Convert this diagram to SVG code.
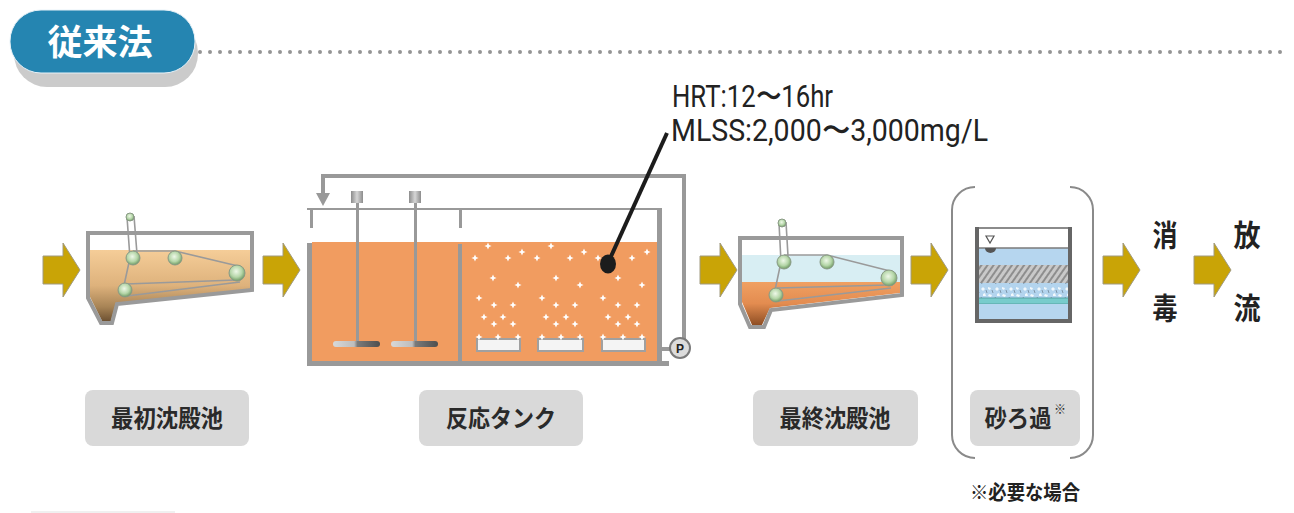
<svg xmlns="http://www.w3.org/2000/svg" width="1294" height="513" viewBox="0 0 1294 513">
  <style>
    .jp { font-family: "Noto Sans CJK JP", "Noto Sans", sans-serif; }
    .lbl-box { fill: #d9d9d9; }
    .lbl { font-family: "Noto Sans CJK JP", sans-serif; font-weight: 700; font-size: 24px; fill: #2a2a2a; text-anchor: middle; }
    .big { font-family: "Noto Sans CJK JP", sans-serif; font-weight: 700; font-size: 30px; fill: #222; text-anchor: middle; }
    .frame { fill: none; stroke: #9a9a9a; stroke-width: 4; stroke-linejoin: miter; }
    .chain { fill: none; stroke: #9a9a9a; stroke-width: 1.6; }
    .sprocket { fill: url(#sprocketGrad); stroke: #8a9a86; stroke-width: 1; }
    .wall { fill: #999; }
    .diffuser { fill: #f4f4f4; stroke: #a0a0a0; stroke-width: 2; }
  </style>
  <defs>
    <radialGradient id="sprocketGrad" cx="0.45" cy="0.4" r="0.6">
      <stop offset="0" stop-color="#eef8e8"/>
      <stop offset="0.6" stop-color="#b5d6a8"/>
      <stop offset="1" stop-color="#6f9a64"/>
    </radialGradient>
    <linearGradient id="sludge1" x1="0" y1="0" x2="0" y2="1">
      <stop offset="0" stop-color="#f5cd98"/>
      <stop offset="0.5" stop-color="#deb27c"/>
      <stop offset="0.8" stop-color="#a88456"/>
      <stop offset="1" stop-color="#6e5232"/>
    </linearGradient>
    <linearGradient id="sludge2" x1="0" y1="0" x2="0" y2="1">
      <stop offset="0" stop-color="#f0a062"/>
      <stop offset="0.5" stop-color="#e38c50"/>
      <stop offset="1" stop-color="#8e4e24"/>
    </linearGradient>
    <linearGradient id="impeller" x1="0" y1="0" x2="1" y2="0">
      <stop offset="0" stop-color="#d8d8d8"/>
      <stop offset="0.45" stop-color="#bdbdbd"/>
      <stop offset="0.52" stop-color="#7a7a7a"/>
      <stop offset="1" stop-color="#4e4e4e"/>
    </linearGradient>
    <linearGradient id="motor" x1="0" y1="0" x2="1" y2="0">
      <stop offset="0" stop-color="#8c8c8c"/>
      <stop offset="0.5" stop-color="#d6d6d6"/>
      <stop offset="1" stop-color="#8c8c8c"/>
    </linearGradient>
    <pattern id="hatch" width="5" height="5" patternUnits="userSpaceOnUse" patternTransform="rotate(35)">
      <rect width="5" height="5" fill="#c9c9c9"/>
      <rect width="2" height="5" fill="#8e8e8e"/>
    </pattern>
    <pattern id="gravel" width="14" height="15" patternUnits="userSpaceOnUse">
      <rect width="14" height="15" fill="#b3d4ee"/>
      <path d="M1,4 L3,2 L5,4 L3,6 Z M8,2 L11,3 L10,5 L8,4 Z M3,9 L5,8 L6,11 L3,11 Z M9,9 L12,10 L11,12 L8,11 Z" fill="#f2f8fc"/>
      <path d="M6,5 L7,8 M12,5 L13,8 M1,12 L2,14" stroke="#7f96a8" stroke-width="1"/>
    </pattern>
    <path id="arrow" d="M0,-14 L20,-14 L20,-27 L37,0 L20,27 L20,14 L0,14 Z" fill="#c9a406" stroke="#a09a80" stroke-width="1"/>
    <path id="bubble" d="M0,-3.6 L1.1,-1.1 L3.6,0 L1.1,1.1 L0,3.6 L-1.1,1.1 L-3.6,0 L-1.1,-1.1 Z" fill="#ffffff"/>
  </defs>

  <rect width="1294" height="513" fill="#ffffff"/>

  <!-- heading badge -->
  <g id="title">
    <rect x="14" y="20" width="184" height="67" rx="33" fill="#cbcbcb"/>
    <rect x="10" y="10" width="185" height="63" rx="31" fill="#2585b1" stroke="#e8f2f8" stroke-width="1"/>
    <text x="100" y="55" class="jp" font-size="35" font-weight="700" fill="#ffffff" text-anchor="middle">従来法</text>
  </g>

  <!-- dotted rule -->
  <g id="rule">
    <line x1="200" y1="52" x2="1290" y2="52" stroke="#949494" stroke-width="4" stroke-linecap="round" stroke-dasharray="0 10"/>
  </g>

  <!-- flow arrows -->
  <g id="connectors">
    <use href="#arrow" transform="translate(43,270)"/>
    <use href="#arrow" transform="translate(263,270)"/>
    <use href="#arrow" transform="translate(700,270)"/>
    <use href="#arrow" transform="translate(911,270)"/>
    <use href="#arrow" transform="translate(1103,270)"/>
    <use href="#arrow" transform="translate(1194,270)"/>
  </g>

  <!-- primary settling tank -->
  <g id="primary-tank">
    <path d="M90,250 L250,250 L250,289 L116,303 L111,321 L102,321 L90,297 Z" fill="url(#sludge1)"/>
    <path class="frame" d="M88,233 L252,233 L252,290 L117,304 L112,323 L101,323 L88,298 Z"/>
    <path class="chain" d="M127,217 L130,258 L123,290 M134,216 L137,254 M133,251 L175,251 L238,266 M126,284 L236,280 M127,296 L240,282"/>
    <circle class="sprocket" cx="130" cy="217" r="4"/>
    <circle class="sprocket" cx="133" cy="258" r="7"/>
    <circle class="sprocket" cx="175" cy="258" r="7"/>
    <circle class="sprocket" cx="237" cy="273" r="8"/>
    <circle class="sprocket" cx="125" cy="290" r="7"/>
  </g>

  <!-- reaction tank -->
  <g id="reaction-tank">
    <rect x="312" y="242" width="346" height="120" fill="#f19c60"/>
    <!-- walls -->
    <rect class="wall" x="307" y="243" width="5" height="122"/>
    <rect class="wall" x="458" y="244" width="4" height="119"/>
    <rect class="wall" x="657" y="209" width="5" height="156"/>
    <rect class="wall" x="307" y="361" width="362" height="5"/>
    <rect class="wall" x="307" y="208" width="355" height="2"/>
    <rect class="wall" x="310" y="209" width="3" height="19"/>
    <rect class="wall" x="459" y="209" width="3" height="19"/>
    <!-- return sludge line -->
    <path d="M662,349 L672,349 M684,339 L684,176 L323,176 L323,196" fill="none" stroke="#999" stroke-width="4"/>
    <path d="M316,193 L323,206 L330,193 Z" fill="#999"/>
    <circle cx="680" cy="348" r="10" fill="#dcdcdc" stroke="#7a7a7a" stroke-width="2"/>
    <text x="680" y="352.5" font-family="Liberation Sans, sans-serif" font-weight="700" font-size="12" fill="#222" text-anchor="middle">P</text>
    <!-- mixers -->
    <rect x="351" y="191" width="12" height="12" fill="url(#motor)"/>
    <rect x="356" y="203" width="3" height="141" fill="#999"/>
    <rect x="333" y="341" width="47" height="6" rx="3" fill="url(#impeller)"/>
    <rect x="409" y="191" width="12" height="12" fill="url(#motor)"/>
    <rect x="414" y="203" width="3" height="141" fill="#999"/>
    <rect x="391" y="341" width="47" height="6" rx="3" fill="url(#impeller)"/>
    <!-- diffusers -->
    <rect class="diffuser" x="477" y="339" width="43" height="12"/>
    <rect class="diffuser" x="538" y="339" width="45" height="12"/>
    <rect class="diffuser" x="602" y="339" width="43" height="12"/>
    <!-- air bubbles -->
    <g>
      <use href="#bubble" x="488" y="246"/><use href="#bubble" x="475" y="258"/><use href="#bubble" x="508" y="258"/>
      <use href="#bubble" x="522" y="252"/><use href="#bubble" x="537" y="258"/><use href="#bubble" x="551" y="246"/>
      <use href="#bubble" x="570" y="258"/><use href="#bubble" x="584" y="252"/><use href="#bubble" x="598" y="258"/>
      <use href="#bubble" x="632" y="258"/><use href="#bubble" x="647" y="252"/>
      <use href="#bubble" x="493" y="278"/><use href="#bubble" x="518" y="285"/><use href="#bubble" x="556" y="278"/>
      <use href="#bubble" x="580" y="285"/><use href="#bubble" x="618" y="278"/><use href="#bubble" x="642" y="285"/>
      <use href="#bubble" x="479" y="298"/><use href="#bubble" x="494" y="305"/><use href="#bubble" x="513" y="305"/>
      <use href="#bubble" x="542" y="298"/><use href="#bubble" x="556" y="305"/><use href="#bubble" x="575" y="305"/>
      <use href="#bubble" x="603" y="298"/><use href="#bubble" x="618" y="305"/><use href="#bubble" x="637" y="305"/>
      <use href="#bubble" x="484" y="317"/><use href="#bubble" x="494" y="324"/><use href="#bubble" x="503" y="317"/>
      <use href="#bubble" x="513" y="324"/><use href="#bubble" x="546" y="317"/><use href="#bubble" x="556" y="324"/>
      <use href="#bubble" x="566" y="317"/><use href="#bubble" x="575" y="324"/><use href="#bubble" x="608" y="317"/>
      <use href="#bubble" x="618" y="324"/><use href="#bubble" x="628" y="317"/><use href="#bubble" x="637" y="324"/>
      <use href="#bubble" x="479" y="337"/><use href="#bubble" x="498" y="337"/><use href="#bubble" x="518" y="337"/>
      <use href="#bubble" x="542" y="337"/><use href="#bubble" x="561" y="337"/><use href="#bubble" x="580" y="337"/>
      <use href="#bubble" x="603" y="337"/><use href="#bubble" x="623" y="337"/><use href="#bubble" x="642" y="337"/>
    </g>
  </g>

  <!-- operating conditions callout -->
  <g id="callout">
    <line x1="608" y1="263" x2="667" y2="133" stroke="#1c1c1c" stroke-width="4"/>
    <ellipse cx="608" cy="264" rx="8" ry="9.5" fill="#1c1c1c"/>
    <text x="672" y="107" font-family="Roboto, 'Liberation Sans', sans-serif" font-size="31" fill="#222" textLength="161" lengthAdjust="spacingAndGlyphs">HRT:12〜16hr</text>
    <text x="671" y="141" font-family="Roboto, 'Liberation Sans', sans-serif" font-size="31" fill="#222" textLength="317" lengthAdjust="spacingAndGlyphs">MLSS:2,000〜3,000mg/L</text>
  </g>

  <!-- final settling tank -->
  <g id="final-tank">
    <rect x="742" y="255" width="158" height="27" fill="#d8eef3"/>
    <path d="M742,282 L900,282 L900,293 L770,308 L762,325 L752,325 L742,302 Z" fill="url(#sludge2)"/>
    <path class="frame" d="M740,238 L902,238 L902,295 L771,310 L764,327 L750,327 L740,304 Z"/>
    <path class="chain" d="M779,223 L781,262 L774,295 M786,222 L788,256 M784,255 L827,255 L890,271 M777,288 L888,285 M778,301 L891,288"/>
    <circle class="sprocket" cx="782" cy="223" r="4"/>
    <circle class="sprocket" cx="784" cy="262" r="7"/>
    <circle class="sprocket" cx="827" cy="262" r="7"/>
    <circle class="sprocket" cx="889" cy="278" r="8"/>
    <circle class="sprocket" cx="776" cy="295" r="7"/>
  </g>

  <!-- sand filter (optional stage) -->
  <g id="sand-filter">
    <path d="M975,187 A23,23 0 0 0 952,210 L952,435 A23,23 0 0 0 975,458 M1070,187 A23,23 0 0 1 1093,210 L1093,435 A23,23 0 0 1 1070,458" fill="none" stroke="#8a8a8a" stroke-width="2"/>
    <rect x="977" y="228" width="93" height="20" fill="#ffffff"/>
    <rect x="977" y="248" width="93" height="17" fill="#b6d6ef"/>
    <rect x="977" y="265" width="93" height="18" fill="url(#hatch)"/>
    <rect x="977" y="283" width="93" height="15" fill="url(#gravel)"/>
    <rect x="977" y="298" width="93" height="6" fill="#78cccc" stroke="#4e9a9a" stroke-width="0.8"/>
    <rect x="977" y="304" width="93" height="15" fill="#b6d6ef"/>
    <line x1="977" y1="248" x2="1070" y2="248" stroke="#7a7a7a" stroke-width="1.5"/>
    <path d="M986,236 L994,236 L990,243 Z" fill="none" stroke="#555" stroke-width="1.2"/>
    <path d="M985,248 L996,248 A5.5,5 0 0 1 985,248 Z" fill="#555"/>
    <path d="M977,228 L977,321 L1070,321 L1070,228 Z" fill="none" stroke="#666" stroke-width="1.5"/>
    <rect x="975" y="227" width="4" height="96" fill="#666"/>
    <rect x="1068" y="227" width="4" height="96" fill="#666"/>
    <rect x="975" y="319" width="97" height="4" fill="#666"/>
  </g>

  <!-- disinfection -->
  <g id="disinfection">
    <text class="big" x="1165" y="246" textLength="25" lengthAdjust="spacingAndGlyphs">消</text>
    <text class="big" x="1165" y="319" textLength="25" lengthAdjust="spacingAndGlyphs">毒</text>
  </g>

  <!-- discharge -->
  <g id="discharge">
    <text class="big" x="1247" y="246" textLength="27" lengthAdjust="spacingAndGlyphs">放</text>
    <text class="big" x="1247" y="319" textLength="27" lengthAdjust="spacingAndGlyphs">流</text>
  </g>

  <!-- stage labels -->
  <g id="labels">
    <rect class="lbl-box" x="85" y="390" width="164" height="56" rx="8"/>
    <text class="lbl" x="167" y="427" textLength="112" lengthAdjust="spacingAndGlyphs">最初沈殿池</text>
    <rect class="lbl-box" x="419" y="390" width="164" height="56" rx="8"/>
    <text class="lbl" x="501" y="427" textLength="110" lengthAdjust="spacingAndGlyphs">反応タンク</text>
    <rect class="lbl-box" x="753" y="390" width="165" height="56" rx="8"/>
    <text class="lbl" x="835" y="427" textLength="111" lengthAdjust="spacingAndGlyphs">最終沈殿池</text>
    <rect class="lbl-box" x="970" y="390" width="110" height="56" rx="8"/>
    <text class="lbl" x="1018" y="427" textLength="67" lengthAdjust="spacingAndGlyphs">砂ろ過</text>
    <text x="1054" y="414" font-family="Noto Sans CJK JP, sans-serif" font-weight="700" font-size="12" fill="#2a2a2a">※</text>
  </g>

  <!-- footnote -->
  <g id="note">
    <text x="1025" y="500" font-family="Noto Sans CJK JP, sans-serif" font-weight="700" font-size="20" fill="#222" text-anchor="middle" textLength="110" lengthAdjust="spacingAndGlyphs">※必要な場合</text>
  </g>

  <line x1="31" y1="512" x2="175" y2="512" stroke="#f0f0f0" stroke-width="2"/>
</svg>
